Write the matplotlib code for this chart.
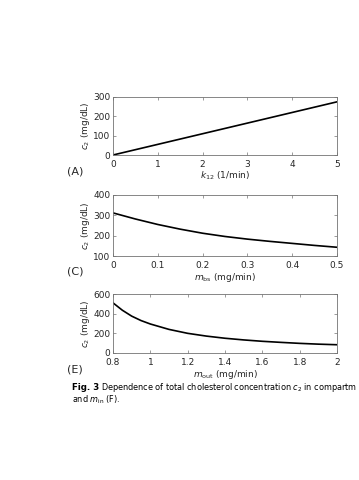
import matplotlib.pyplot as plt
import numpy as np

# panel A: c2 vs k12
k12 = [0, 1, 2, 3, 4, 5]
c2_a = [0, 55, 110, 165, 220, 275]

# panel C: c2 vs m_bs
m_bs = [0, 0.05, 0.1, 0.15, 0.2, 0.25, 0.3, 0.35, 0.4, 0.45, 0.5]
c2_c = [312, 282, 255, 232, 212, 196, 183, 172, 162, 152, 143]

# panel E: c2 vs m_out
m_out = [0.8, 0.85, 0.9, 0.95, 1.0, 1.1, 1.2, 1.3, 1.4, 1.5, 1.6, 1.7, 1.8, 1.9, 2.0]
c2_e = [510, 435, 375, 330, 295, 240, 200, 172, 150, 133, 119, 108, 98, 90, 84]

plt.rcParams['font.family'] = 'DejaVu Sans'
plt.rcParams['mathtext.fontset'] = 'dejavusans'

fig = plt.figure(figsize=(3.59, 4.80), dpi=100)
W, H = 359, 480

def make_ax(top, bot):
    return fig.add_axes([113 / W, 1 - bot / H, 224 / W, (bot - top) / H])

panels = [
    (97, 155, k12, c2_a, (0, 5), (0, 300), [0, 1, 2, 3, 4, 5], [0, 100, 200, 300],
     r'$k_{12}$ (1/min)', '(A)'),
    (195, 256, m_bs, c2_c, (0, 0.5), (100, 400), [0, 0.1, 0.2, 0.3, 0.4, 0.5], [100, 200, 300, 400],
     r'$m_{\rm bs}$ (mg/min)', '(C)'),
    (294, 353, m_out, c2_e, (0.8, 2), (0, 600), [0.8, 1, 1.2, 1.4, 1.6, 1.8, 2], [0, 200, 400, 600],
     r'$m_{\rm out}$ (mg/min)', '(E)'),
]

for top, bot, x, y, xl, yl, xt, yt, xlab, tag in panels:
    ax = make_ax(top, bot)
    ax.plot(x, y, color='black', lw=1.2)
    ax.set_xlim(*xl)
    ax.set_ylim(*yl)
    ax.set_xticks(xt)
    ax.set_xticklabels([f'{v:g}' for v in xt])
    ax.set_yticks(yt)
    ax.tick_params(direction='in', length=2.5, width=0.5, labelsize=6.5,
                   top=True, right=True, colors='0.45', labelcolor='0.15')
    ax.tick_params(axis='x', pad=3.5)
    ax.tick_params(axis='y', pad=2)
    for s in ax.spines.values():
        s.set_linewidth(0.6)
        s.set_color('0.45')
    ax.set_xlabel(xlab, fontsize=6.5, labelpad=0.5, color='0.15')
    ax.set_ylabel(r'$c_2$ (mg/dL)', fontsize=6.5, labelpad=1, color='0.15')
    fig.text(67 / W, 1 - (bot + 16) / H, tag, fontsize=8, color='0.15', va='center')

fig.text(72 / W, 1 - 387 / H, 'Fig. 3', fontsize=6.2, fontweight='bold', va='center')
fig.text(101 / W, 1 - 387 / H,
         r'Dependence of total cholesterol concentration $c_2$ in compartm',
         fontsize=5.9, va='center')
fig.text(72 / W, 1 - 400 / H, r'and $m_{\rm in}$ (F).', fontsize=5.9, va='center')

fig.savefig('out.png', dpi=100)
